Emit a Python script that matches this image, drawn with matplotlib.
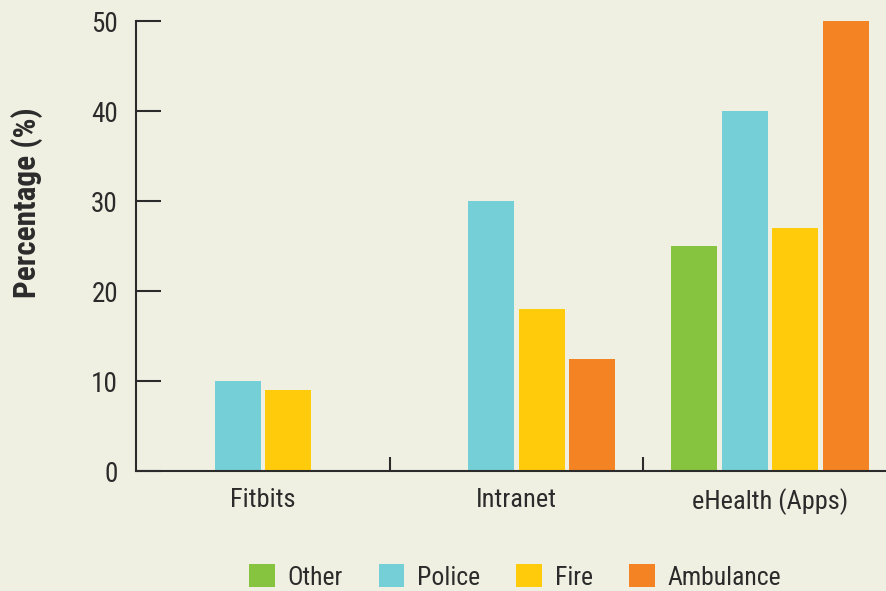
import matplotlib
matplotlib.use("Agg")
import matplotlib.pyplot as plt
import numpy as np
from matplotlib.patches import Patch

plt.rcParams['font.family'] = ['Roboto Condensed', 'DejaVu Sans']

categories = ["Fitbits", "Intranet", "eHealth (Apps)"]
series_names = ["Other", "Police", "Fire", "Ambulance"]
other = [0, 0, 25]
police = [10, 30, 40]
fire = [9, 18, 27]
ambulance = [0, 12.5, 50]
yticks = [0, 10, 20, 30, 40, 50]

colors = ["#86c440", "#75cfd6", "#ffcb0a", "#f48423"]
bg = "#f0f0e2"
txt = "#2b2b2b"

fig = plt.figure(figsize=(8.87, 5.91), dpi=100, facecolor=bg)
ax = fig.add_axes([136/887, 120/591, (897-136)/887, 450/591])
ax.set_facecolor(bg)

x = np.arange(len(categories))
step = 0.199
width = 0.181
for i, (vals, c) in enumerate(zip([other, police, fire, ambulance], colors)):
    ax.bar(x + (i - 1.5) * step, vals, width=width, color=c, zorder=2)

ax.set_xlim(-0.5, 2.5)
ax.set_ylim(0, 50)
ax.set_yticks(yticks)
ax.set_yticklabels([str(v) for v in yticks], fontsize=19.5, color=txt)
ax.set_xticks(x)
ax.set_xticklabels(categories, fontsize=19, color=txt)
ax.set_xticks([0.5, 1.5], minor=True)
ax.tick_params(axis='x', which='major', length=0, pad=12)
ax.tick_params(axis='x', which='minor', direction='in', length=10, width=1.5, color=txt)
ax.tick_params(axis='y', direction='in', length=18, width=1.5, color=txt, pad=13)

for s in ['top', 'right']:
    ax.spines[s].set_visible(False)
for s in ['left', 'bottom']:
    ax.spines[s].set_color(txt)
    ax.spines[s].set_linewidth(1.5)

fig.text(27/887, 1 - 203/591, "Percentage (%)", rotation=90, ha='center', va='center',
         fontsize=22.5, fontweight='bold', color=txt)

handles = [Patch(facecolor=c, label=n) for c, n in zip(colors, series_names)]
leg = fig.legend(handles=handles, loc='center', bbox_to_anchor=(515/887, 1 - 577/591),
                 ncol=4, frameon=False, fontsize=18.5, handlelength=1.0, handleheight=1.0,
                 handletextpad=0.5, columnspacing=1.4, labelcolor=txt)

fig.savefig("out.png", dpi=100, facecolor=bg)
